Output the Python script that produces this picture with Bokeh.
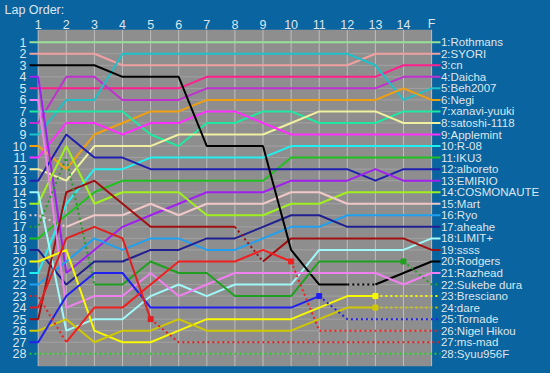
from bokeh.plotting import figure
from bokeh.models import Range1d, GlobalInlineStyleSheet
from bokeh.core.properties import value
from bokeh.embed import file_html
from bokeh.resources import INLINE

# ---------------- data ----------------
LAPS = ["1", "2", "3", "4", "5", "6", "7", "8", "9", "10", "11", "12", "13", "14", "F"]

DRIVERS = ["Rothmans", "SYORI", "cn", "Daicha", "Beh2007", "Negi", "xanavi-yuuki",
           "satoshi-1118", "Applemint", "R-08", "IKU3", "alboreto", "EMIRIO",
           "COSMONAUTE", "Mart", "Ryo", "aheahe", "LIMIT+", "ssss", "Rodgers",
           "Razhead", "Sukebe dura", "Bresciano", "dare", "Tornade", "Nigel Hikou",
           "ms-mad", "Syuu956F"]

COLORS = ["#98e098", "#f0a0a0", "#ff1f8f", "#c030d0", "#20c0c8", "#f0a010", "#20e8a0",
          "#f0f0a0", "#ff30ff", "#20f0f0", "#20c020", "#2020b0", "#a020f0",
          "#a0f020", "#f0c8c8", "#20a0f0", "#202090", "#a0f8f8", "#a01010", "#000000",
          "#f080f0", "#20a020", "#f8f800", "#d0c800", "#2020f0", "#f02020",
          "#e02020", "#20d020"]

# position of each driver at laps 1..14 and F
POS_ROTHMANS = [1, 1, 1, 1, 1, 1, 1, 1, 1, 1, 1, 1, 1, 1, 1]
POS_SYORI = [2, 2, 2, 3, 3, 3, 3, 3, 3, 3, 3, 3, 2, 2, 2]
POS_CN = [5, 5, 5, 5, 5, 5, 4, 4, 4, 4, 4, 4, 4, 3, 3]
POS_DAICHA = [8, 4, 4, 6, 6, 6, 5, 5, 5, 5, 5, 5, 5, 4, 4]
POS_BEH2007 = [9, 6, 6, 2, 2, 2, 2, 2, 2, 2, 2, 2, 3, 6, 5]
POS_NEGI = [10, 12, 9, 8, 7, 7, 6, 6, 6, 6, 6, 6, 6, 5, 6]
POS_XANAVI = [7, 7, 7, 7, 9, 10, 8, 8, 7, 7, 8, 8, 8, 7, 7]
POS_SATOSHI = [12, 13, 10, 10, 10, 9, 9, 9, 9, 8, 7, 7, 7, 8, 8]
POS_APPLEMINT = [11, 8, 8, 9, 8, 8, 7, 7, 8, 9, 9, 9, 9, 9, 9]
POS_R08 = [21, 15, 12, 12, 11, 11, 11, 11, 11, 10, 10, 10, 10, 10, 10]
POS_IKU3 = [18, 16, 14, 13, 13, 13, 13, 13, 13, 11, 11, 11, 11, 11, 11]
POS_ALBORETO = [13, 9, 11, 11, 12, 12, 12, 12, 12, 12, 12, 12, 13, 12, 12]
POS_EMIRIO = [4, 21, 19, 17, 16, 15, 14, 14, 14, 13, 13, 13, 12, 13, 13]
POS_COSMONAUTE = [15, 10, 15, 14, 14, 14, 16, 16, 16, 15, 15, 14, 14, 14, 14]
POS_MART = [16, 17, 16, 16, 15, 16, 15, 15, 15, 14, 14, 15, 15, 15, 15]
POS_RYO = [22, 20, 18, 19, 18, 18, 19, 19, 18, 17, 17, 16, 16, 16, 16]
POS_AHEAHE = [19, 22, 20, 20, 19, 19, 18, 18, 17, 16, 16, 17, 17, 17, 17]
POS_LIMIT = [14, 26, 25, 25, 23, 22, 23, 22, 22, 22, 19, 19, 19, 19, 18]
POS_SSSS = [25, 14, 13, 15, 17, 17, 17, 17, 20, 18, 18, 18, 18, 18, 19]
POS_RODGERS = [3, 3, 3, 4, 4, 4, 10, 10, 10, 19, 22, 22, 22, 21, 20]
POS_RAZHEAD = [6, 24, 23, 23, 21, 23, 22, 21, 21, 21, 21, 21, 21, 22, 21]
POS_SUKEBE = [17, 11, 22, 22, 20, 21, 21, 23, 23, 23, 20, 20, 20, 20, 22]
POS_BRESCIANO = [20, 19, 26, 27, 27, 26, 25, 25, 25, 25, 24, 23, 23, 23, 23]
POS_DARE = [26, 25, 27, 26, 26, 25, 26, 26, 26, 26, 25, 24, 24, 24, 24]
POS_TORNADE = [27, 23, 21, 21, 24, 24, 24, 24, 24, 24, 23, 25, 25, 25, 25]
POS_NIGEL = [23, 27, 24, 24, 22, 20, 20, 20, 19, 20, 26, 26, 26, 26, 26]
POS_MSMAD = [24, 18, 17, 18, 25, 27, 27, 27, 27, 27, 27, 27, 27, 27, 27]
POS_SYUU = [28, 28, 28, 28, 28, 28, 28, 28, 28, 28, 28, 28, 28, 28, 28]

POSITIONS = [POS_ROTHMANS, POS_SYORI, POS_CN, POS_DAICHA, POS_BEH2007, POS_NEGI,
             POS_XANAVI, POS_SATOSHI, POS_APPLEMINT, POS_R08, POS_IKU3, POS_ALBORETO,
             POS_EMIRIO, POS_COSMONAUTE, POS_MART, POS_RYO, POS_AHEAHE, POS_LIMIT,
             POS_SSSS, POS_RODGERS, POS_RAZHEAD, POS_SUKEBE, POS_BRESCIANO, POS_DARE,
             POS_TORNADE, POS_NIGEL, POS_MSMAD, POS_SYUU]

# lap intervals (0 = lap1->lap2) drawn dotted
DOTTED = {
    "Mart": [0],
    "ssss": [7],
    "Rodgers": [11],
    "Sukebe dura": [0, 1, 13],
    "Bresciano": [12, 13],
    "dare": [12, 13],
    "Tornade": [10, 11, 12, 13],
    "Nigel Hikou": [0, 9, 10, 11, 12, 13],
    "ms-mad": [4, 5, 6, 7, 8, 9, 10, 11, 12, 13],
    "Syuu956F": [0, 1, 2, 3, 4, 5, 6, 7, 8, 9, 10, 11, 12, 13],
}
# lap index of the last classified lap (marker)
RETIRED_AT = {"Sukebe dura": 13, "Bresciano": 12, "dare": 12, "Tornade": 10,
              "Nigel Hikou": 9, "ms-mad": 4}

# ---------------- figure ----------------
BG = "#0a64a0"
PLOT_BG = "#8e8e8e"
TXT = "#dde6ee"
FONT = value("Liberation Sans")

W, H = 550, 373
n_laps = len(LAPS)
n_rows = len(DRIVERS)

p = figure(width=W, height=H, output_backend="svg", toolbar_location=None,
           x_range=Range1d(-0.3416, 19.231), y_range=Range1d(29.709, -2.6135),
           x_axis_location=None, y_axis_location=None, title=None,
           min_border=0, background_fill_color=BG, border_fill_color=BG,
           outline_line_color=None)
p.grid.visible = False
p.stylesheets = [GlobalInlineStyleSheet(css="html,body{margin:0;padding:0;background:%s;overflow:hidden}" % BG)]

lap_x = list(range(1, n_laps + 1))
rows = list(range(1, n_rows + 1))

# plot area
p.quad(left=[1], right=[n_laps], top=[-0.07], bottom=[n_rows + 1.07],
       fill_color=PLOT_BG, line_color=None)
# grid
p.segment(x0=[1] * n_rows, x1=[n_laps] * n_rows, y0=rows, y1=rows,
          line_color="#a2a2a2", line_width=1)
p.segment(x0=lap_x, x1=lap_x, y0=[-0.07] * n_laps, y1=[n_rows + 1.07] * n_laps,
          line_color="#bdbdbd", line_width=1)

LEFT_STUB = 0.69
RIGHT_STUB = 15.317

# driver lines
for name, color, pos in zip(DRIVERS, COLORS, POSITIONS):
    dotted = set(DOTTED.get(name, []))
    xs = [LEFT_STUB] + lap_x + [RIGHT_STUB]
    ys = [pos[0]] + pos + [pos[-1]]
    styles = [0 in dotted] + [i in dotted for i in range(n_laps - 1)] + [(n_laps - 2) in dotted]
    start = 0
    for k in range(1, len(styles) + 1):
        if k == len(styles) or styles[k] != styles[start]:
            seg_x = xs[start:k + 1]
            seg_y = ys[start:k + 1]
            if styles[start]:
                p.line(seg_x, seg_y, line_color=color, line_width=2, line_dash="2 3")
            else:
                p.line(seg_x, seg_y, line_color=color, line_width=2)
            start = k
    if name in RETIRED_AT:
        i = RETIRED_AT[name]
        p.scatter([lap_x[i]], [pos[i]], marker="square", size=5,
                  fill_color=color, line_color=color)

# texts
p.text(x=[-0.2], y=[-1.78], text=["Lap Order:"], text_font=FONT, text_font_size="12.5px",
       text_color=TXT, text_align="left", text_baseline="middle")
p.text(x=lap_x, y=[-0.55] * n_laps, text=LAPS, text_font=FONT, text_font_size="12.5px",
       text_color=TXT, text_align="center", text_baseline="middle")
p.text(x=[0.58] * n_rows, y=rows, text=[str(r) for r in rows], text_font=FONT,
       text_font_size="12.5px", text_color=TXT, text_align="right", text_baseline="middle")
final_labels = ["%d:%s" % (pos[-1], name) for name, pos in zip(DRIVERS, POSITIONS)]
p.text(x=[15.33] * n_rows, y=[pos[-1] for pos in POSITIONS], text=final_labels,
       text_font=FONT, text_font_size="11.5px", text_color=TXT, text_align="left",
       text_baseline="middle")

open("out.html", "w").write(file_html(p, INLINE))
